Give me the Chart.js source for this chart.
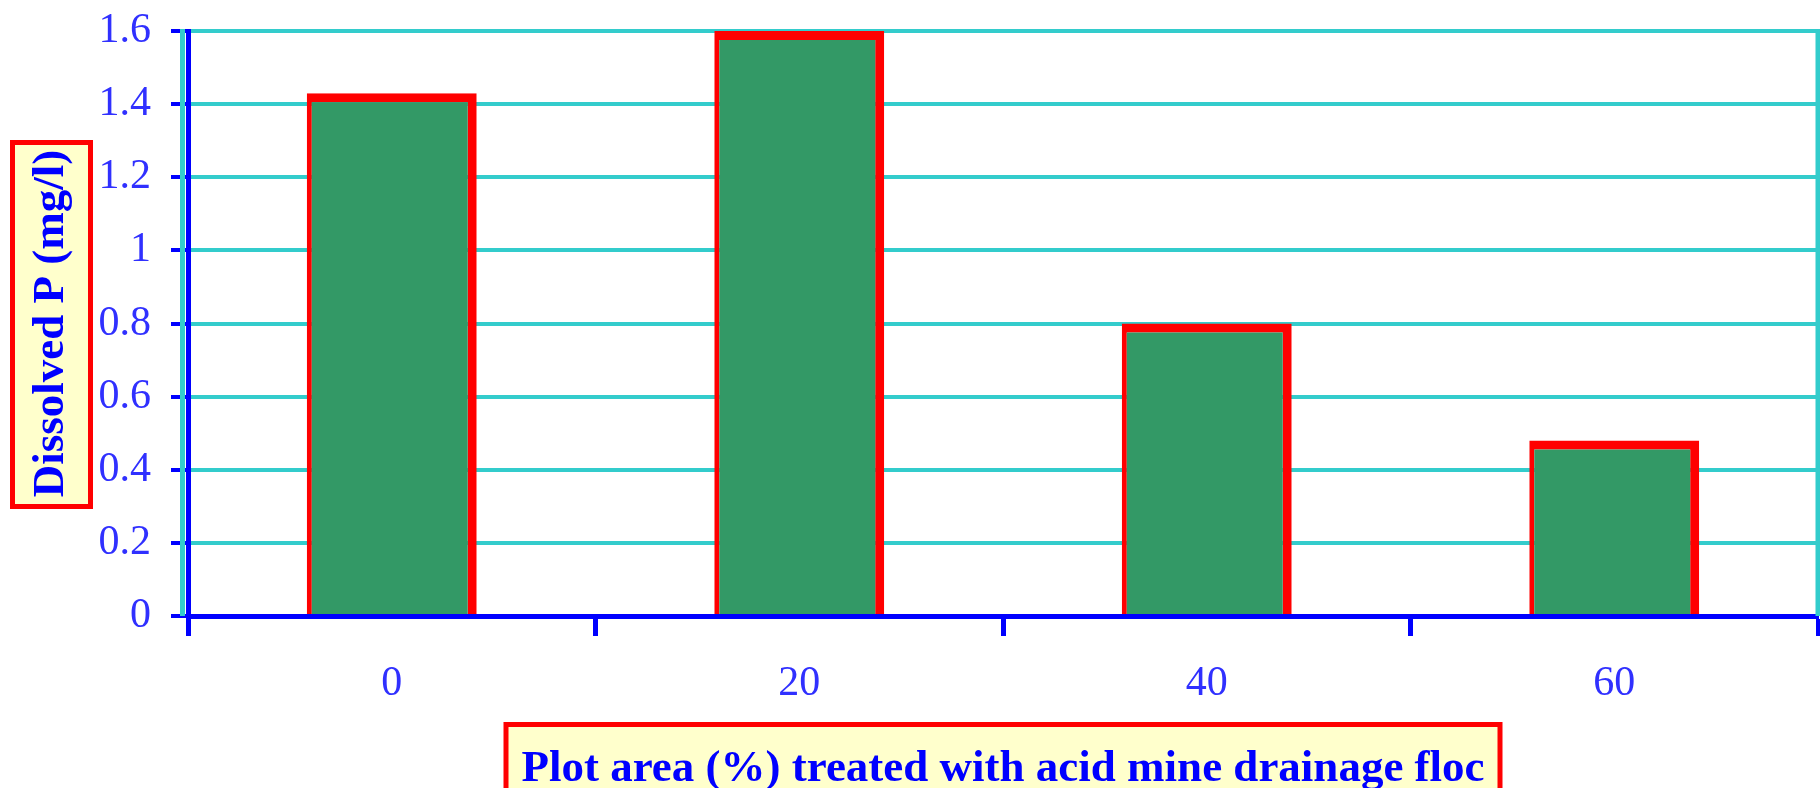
<!DOCTYPE html>
<html>
<head>
<meta charset="utf-8">
<title>Dissolved P</title>
<script src="https://cdn.jsdelivr.net/npm/chart.js@4.4.1/dist/chart.umd.min.js"></script>
<style>
    html, body { margin: 0; padding: 0; background: #ffffff; }
    #wrap { position: relative; width: 1820px; height: 788px; }
</style>
</head>
<body>
<div id="wrap"><canvas id="floc"></canvas></div>
<script>
// plot area treated (%) and dissolved P (mg/l)
var areaTreated = ["0", "20", "40", "60"];
var dissolvedP = [1.43, 1.6, 0.8, 0.48];
var yTickLabels = ["0", "0.2", "0.4", "0.6", "0.8", "1", "1.2", "1.4", "1.6"];
var xTitle = "Plot area (%) treated with acid mine drainage floc";
var yTitle = "Dissolved P (mg/l)";

var SERIF = '"Liberation Serif", "Times New Roman", serif';
var BLUE = "#0000ff";
var CYAN = "#33cccc";

// frame lines and the boxed axis titles
var boxTitles = {
    id: "boxTitles",
    beforeDatasetsDraw: function (chart) {
        var ctx = chart.ctx;
        var a = chart.chartArea;
        ctx.save();
        ctx.strokeStyle = CYAN;
        ctx.lineWidth = 5;
        ctx.beginPath();
        ctx.moveTo(a.left - 5.5, a.top - 2);
        ctx.lineTo(a.left - 5.5, a.bottom);
        ctx.moveTo(a.right, a.top - 2);
        ctx.lineTo(a.right, a.bottom);
        ctx.stroke();
        ctx.restore();
    },
    afterDraw: function (chart) {
        var ctx = chart.ctx;
        var a = chart.chartArea;
        ctx.save();
        ctx.font = "bold 45px " + SERIF;
        ctx.textAlign = "center";
        ctx.textBaseline = "alphabetic";

        // x title box
        var cx = (a.left + a.right) / 2;
        ctx.fillStyle = "#ffffcc";
        ctx.fillRect(cx - 497, 724, 994, 70);
        ctx.strokeStyle = "#ff0000";
        ctx.lineWidth = 5;
        ctx.strokeRect(cx - 497, 724.5, 994, 70);
        ctx.fillStyle = BLUE;
        ctx.fillText(xTitle, cx, 781);

        // y title box
        var cy = (a.top + a.bottom) / 2;
        ctx.fillStyle = "#ffffcc";
        ctx.fillRect(12.5, cy - 181, 78, 364);
        ctx.strokeRect(12.5, cy - 181, 78, 364);
        ctx.translate(63, cy);
        ctx.rotate(-Math.PI / 2);
        ctx.fillStyle = BLUE;
        ctx.fillText(yTitle, 0, 0);
        ctx.restore();
    }
};

var ctx = document.getElementById("floc").getContext("2d");
var flocChart = new Chart(ctx, {
    type: "bar",
    data: {
        labels: areaTreated,
        datasets: [
            {
                data: dissolvedP,
                backgroundColor: "#339966",
                borderColor: "#ff0000",
                borderWidth: { top: 9, right: 9, bottom: 0, left: 5 },
                categoryPercentage: 1,
                barPercentage: 0.417,
            },
        ],
    },
    options: {
        responsive: true,
        maintainAspectRatio: false,
        animation: false,
        layout: { padding: { top: 31, right: 2, left: 0, bottom: 0 } },
        plugins: {
            legend: { display: false },
            tooltip: { enabled: false },
        },
        scales: {
            x: {
                offset: true,
                grid: {
                    offset: true,
                    drawOnChartArea: false,
                    color: BLUE,
                    tickLength: 20,
                    tickWidth: 5,
                },
                border: { color: BLUE, width: 5 },
                ticks: {
                    color: "#3030ff",
                    font: { family: SERIF, size: 42 },
                    padding: 23,
                },
                afterFit: function (scale) {
                    scale.height = 172;
                    scale.paddingLeft = 0;
                    scale.paddingRight = 0;
                },
            },
            y: {
                min: 0,
                max: 1.6,
                ticks: {
                    stepSize: 0.2,
                    color: "#3030ff",
                    font: { family: SERIF, size: 42 },
                    padding: 20,
                    callback: function (value, index) {
                        return yTickLabels[index];
                    },
                },
                grid: {
                    color: CYAN,
                    lineWidth: 4,
                    tickColor: BLUE,
                    tickLength: 17,
                    tickWidth: 4,
                },
                border: { color: BLUE, width: 5 },
                afterFit: function (scale) {
                    // labels may overhang the top edge, as in the printed figure
                    scale.width = 188;
                    scale.paddingTop = 0;
                    scale.paddingBottom = 0;
                },
            },
        },
    },
    plugins: [boxTitles],
});
</script>
</body>
</html>
